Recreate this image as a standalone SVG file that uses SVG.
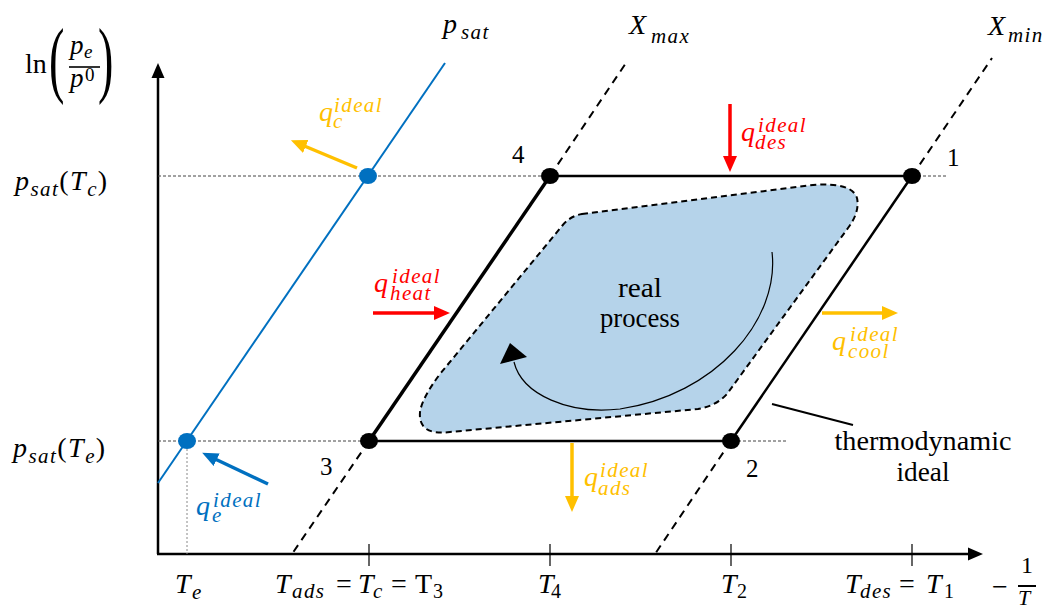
<svg xmlns="http://www.w3.org/2000/svg" width="1048" height="610" viewBox="0 0 1048 610">
<defs>
<style>
text{font-family:'Liberation Serif','DejaVu Serif',serif}
.m{font-style:italic;font-size:28px}
.s{font-style:italic;font-size:21px;letter-spacing:1.4px}
.u{font-style:normal;font-size:28px}
.n{font-size:25px}
.t{font-size:27px;text-anchor:middle}
.guide{stroke:#444;stroke-width:1;stroke-dasharray:3 2;fill:none}
.xline{stroke:#000;stroke-width:2;stroke-dasharray:8 6;fill:none}
.edge{stroke:#000;stroke-width:2.5;fill:none}
.tick{stroke:#000;stroke-width:1.2}
</style>
<marker id="ho" markerUnits="userSpaceOnUse" markerWidth="16" markerHeight="14" refX="4" refY="7" orient="auto"><path d="M0,0 L16,7 L0,14 Z" fill="#FFC000"/></marker>
<marker id="hr" markerUnits="userSpaceOnUse" markerWidth="16" markerHeight="14" refX="4" refY="7" orient="auto"><path d="M0,0 L16,7 L0,14 Z" fill="#FF0000"/></marker>
<marker id="hb" markerUnits="userSpaceOnUse" markerWidth="16" markerHeight="14" refX="4" refY="7" orient="auto"><path d="M0,0 L16,7 L0,14 Z" fill="#0070C0"/></marker>
</defs>
<rect width="1048" height="610" fill="#fff"/>

<g id="axes">
<line x1="158" y1="554" x2="158" y2="76" stroke="#000" stroke-width="2.5"/>
<polygon points="158,63 151.5,78 164.5,78" fill="#000"/>
<line x1="157" y1="554" x2="969" y2="554" stroke="#000" stroke-width="2.5"/>
<polygon points="983,554 968,547.5 968,560.5" fill="#000"/>
<line class="tick" x1="369" y1="544" x2="369" y2="566"/>
<line class="tick" x1="550" y1="544" x2="550" y2="566"/>
<line class="tick" x1="731" y1="544" x2="731" y2="566"/>
<line class="tick" x1="912" y1="544" x2="912" y2="566"/>
</g>

<g id="guides">
<line class="guide" x1="158" y1="176" x2="947" y2="176"/>
<line class="guide" x1="158" y1="441" x2="787" y2="441"/>
<line x1="187" y1="441" x2="187" y2="554" stroke="#888" stroke-width="1" stroke-dasharray="2 2"/>
</g>

<g id="real-process">
<path d="M582,214 L813,185 Q852,182 857,198 Q860,212 848,228 L727,394 Q716,406 698,409 L450,432 Q418,436 420,412 Q422,398 440,374 L562,226 Q570,216 582,214 Z" fill="#B5D3EA" stroke="#000" stroke-width="2" stroke-dasharray="6 4"/>
<path d="M772,252 C780,320 715,395 620,409 C570,415 522,395 514,362" fill="none" stroke="#000" stroke-width="1.2"/>
<polygon points="510,343 500,364 527,357" fill="#000"/>
<text class="t" x="640" y="297" textLength="44" lengthAdjust="spacingAndGlyphs">real</text>
<text class="t" x="640" y="327" textLength="80" lengthAdjust="spacingAndGlyphs">process</text>
</g>

<g id="isosteres">
<line class="xline" x1="550" y1="176" x2="628" y2="60"/>
<line class="xline" x1="369" y1="441" x2="292" y2="554"/>
<line class="xline" x1="912" y1="176" x2="992" y2="58"/>
<line class="xline" x1="731" y1="441" x2="655" y2="554"/>
</g>

<g id="psat-line">
<line x1="158" y1="483" x2="445" y2="63" stroke="#0070C0" stroke-width="2"/>
</g>

<g id="cycle">
<line class="edge" x1="550" y1="176" x2="912" y2="176"/>
<line class="edge" x1="912" y1="176" x2="731" y2="441"/>
<line class="edge" x1="731" y1="441" x2="369" y2="441"/>
<line x1="369" y1="441" x2="550" y2="176" stroke="#000" stroke-width="3.5"/>
</g>

<g id="point-1"><ellipse cx="912" cy="176" rx="9" ry="8"/><text class="n" x="947" y="166">1</text></g>
<g id="point-2"><ellipse cx="731" cy="441" rx="9" ry="8"/><text class="n" x="746" y="477">2</text></g>
<g id="point-3"><ellipse cx="369" cy="441" rx="9" ry="8"/><text class="n" x="320" y="475">3</text></g>
<g id="point-4"><ellipse cx="550" cy="176" rx="9" ry="8"/><text class="n" x="512" y="163">4</text></g>
<g id="point-c"><ellipse cx="368" cy="176" rx="9" ry="8" fill="#0070C0"/></g>
<g id="point-e"><ellipse cx="187" cy="441" rx="9" ry="8" fill="#0070C0"/></g>

<g id="ideal-label">
<line x1="772" y1="404" x2="853" y2="425" stroke="#000" stroke-width="2"/>
<text class="t" x="923" y="450" textLength="177" lengthAdjust="spacingAndGlyphs">thermodynamic</text>
<text class="t" x="923" y="481" textLength="53" lengthAdjust="spacingAndGlyphs">ideal</text>
</g>

<g id="heat-flows">
<g id="q-c" fill="#FFC000">
<line x1="357" y1="168" x2="302" y2="145" stroke="#FFC000" stroke-width="3.5" marker-end="url(#ho)"/>
<text class="m" x="319" y="121">q</text>
<text class="s" x="334" y="112">ideal</text>
<text class="s" x="333" y="128">c</text>
</g>
<g id="q-des" fill="#FF0000">
<line x1="730" y1="104" x2="730" y2="160" stroke="#FF0000" stroke-width="3.5" marker-end="url(#hr)"/>
<text class="m" x="741" y="141">q</text>
<text class="s" x="758" y="132">ideal</text>
<text class="s" x="755" y="149">des</text>
</g>
<g id="q-heat" fill="#FF0000">
<line x1="373" y1="313" x2="438" y2="313" stroke="#FF0000" stroke-width="3.5" marker-end="url(#hr)"/>
<text class="m" x="374" y="292">q</text>
<text class="s" x="392" y="283">ideal</text>
<text class="s" x="390" y="300">heat</text>
</g>
<g id="q-cool" fill="#FFC000">
<line x1="822" y1="313" x2="886" y2="313" stroke="#FFC000" stroke-width="3.5" marker-end="url(#ho)"/>
<text class="m" x="832" y="350">q</text>
<text class="s" x="850" y="341">ideal</text>
<text class="s" x="848" y="358">cool</text>
</g>
<g id="q-ads" fill="#FFC000">
<line x1="572" y1="443" x2="572" y2="500" stroke="#FFC000" stroke-width="3.5" marker-end="url(#ho)"/>
<text class="m" x="584" y="486">q</text>
<text class="s" x="600" y="477">ideal</text>
<text class="s" x="598" y="495">ads</text>
</g>
<g id="q-e" fill="#0070C0">
<line x1="268" y1="484" x2="213" y2="458" stroke="#0070C0" stroke-width="3.5" marker-end="url(#hb)"/>
<text class="m" x="196" y="515">q</text>
<text class="s" x="213" y="507">ideal</text>
<text class="s" x="212" y="522">e</text>
</g>
</g>

<g id="axis-labels">
<text class="u" x="25" y="73">ln</text>
<text class="u" style="font-size:84px" transform="translate(49,87) scale(0.55,1)">(</text>
<text class="u" style="font-size:84px" transform="translate(98,87) scale(0.55,1)">)</text>
<text class="m" x="70" y="54" style="font-size:27px">p</text>
<text class="s" x="84" y="58" style="font-size:19px">e</text>
<line x1="69" y1="67" x2="100" y2="67" stroke="#000" stroke-width="1.6"/>
<text class="m" x="70" y="87" style="font-size:27px">p</text>
<text class="u" x="85" y="81" style="font-size:19px">0</text>

<text class="m" x="15" y="190" letter-spacing="1.5">p<tspan class="s" dy="6">sat</tspan><tspan class="u" dy="-6">(</tspan>T<tspan class="s" dy="6">c</tspan><tspan class="u" dy="-6">)</tspan></text>
<text class="m" x="13" y="457" letter-spacing="1.5">p<tspan class="s" dy="6">sat</tspan><tspan class="u" dy="-6">(</tspan>T<tspan class="s" dy="6">e</tspan><tspan class="u" dy="-6">)</tspan></text>

<text class="m" x="443" y="33">p</text><text class="s" x="461" y="39">sat</text>
<text class="m" x="629" y="34">X</text><text class="s" x="651" y="43">max</text>
<text class="m" x="988" y="35">X</text><text class="s" x="1008" y="42">min</text>

<text class="m" x="175" y="593">T</text><text class="s" x="192" y="599">e</text>
<text class="m" x="275" y="593">T</text><text class="s" x="292" y="598">ads</text>
<text class="u" x="336" y="593">=</text>
<text class="m" x="358" y="593">T</text><text class="s" x="373" y="598">c</text>
<text class="u" x="391" y="593">=</text>
<text class="u" x="415" y="593">T</text><text class="u" x="433" y="598" style="font-size:20px">3</text>
<text class="m" x="538" y="593">T</text><text class="u" x="551" y="598" style="font-size:20px">4</text>
<text class="m" x="721" y="593">T</text><text class="u" x="737" y="598" style="font-size:20px">2</text>
<text class="m" x="845" y="593">T</text><text class="s" x="860" y="598">des</text>
<text class="u" x="899" y="593">=</text>
<text class="m" x="926" y="593">T</text><text class="u" x="944" y="598" style="font-size:20px">1</text>

<text class="u" x="992" y="596">−</text>
<text class="u" x="1021" y="573" style="font-size:24px">1</text>
<line x1="1018" y1="586" x2="1036" y2="586" stroke="#000" stroke-width="2"/>
<text class="m" x="1018" y="605" style="font-size:22px">T</text>
</g>
</svg>
